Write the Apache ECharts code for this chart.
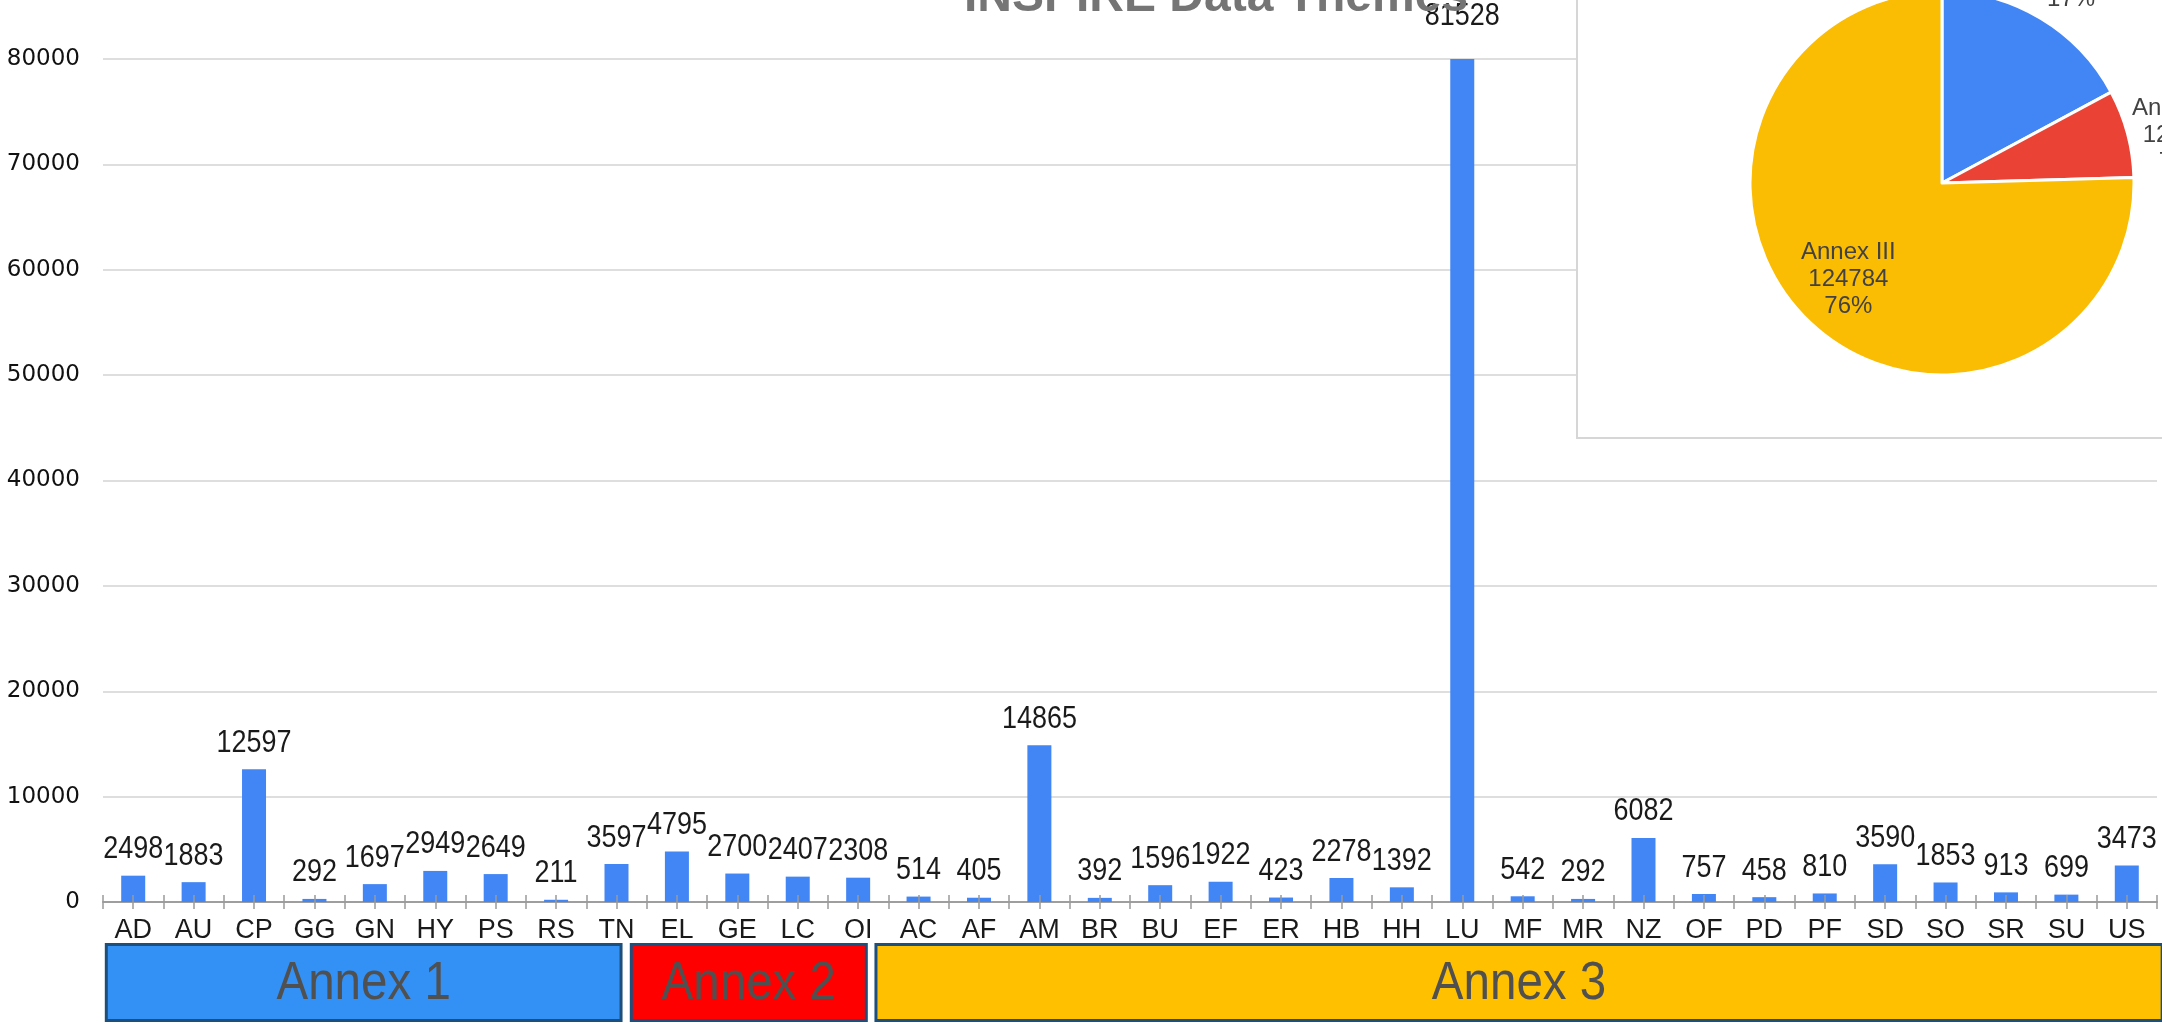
<!DOCTYPE html>
<html>
<head>
<meta charset="utf-8">
<script src="https://cdn.jsdelivr.net/npm/echarts@6/dist/echarts.min.js"></script>
<style>
html,body{margin:0;padding:0;background:#fff;}
#chart{width:2162px;height:1023px;}
</style>
</head>
<body>
<div id="chart"></div>
<script>
// ---------- data ----------
const categories = ['AD','AU','CP','GG','GN','HY','PS','RS','TN',
  'EL','GE','LC','OI',
  'AC','AF','AM','BR','BU','EF','ER','HB','HH','LU','MF','MR','NZ','OF','PD','PF','SD','SO','SR','SU','US'];
const values = [2498,1883,12597,292,1697,2949,2649,211,3597,
  4795,2700,2407,2308,
  514,405,14865,392,1596,1922,423,2278,1392,81528,542,292,6082,757,458,810,3590,1853,913,699,3473];
const yTicks = [0,10000,20000,30000,40000,50000,60000,70000,80000];

const annexNames = ['Annex 1','Annex 2','Annex 3'];
const annexStart = [0.03, 8.72, 12.77];   // in category units
const annexEnd   = [8.6, 12.66, 34.11];

const pieNames = ['Annex I','Annex II','Annex III'];
const pieValues = [28373, 12210, 124784];
const piePctShown = ['17%','7%','76%'];

// ---------- styling ----------
const SANS = '"Liberation Sans",Arial,sans-serif';
const annexColors = ['#3391F5','#FF0000','#FFC000'];
const pieColors = ['#4285F4','#EA4335','#FBBC04'];
const yMax = 80000;
const pieCenter = [1942, 183];
const pieRadius = 192;
const pieLabelRadiusFactor = [1.31, 1.24, 0.70];
const pieLabelDx = [0, 4, 0];
const pieLabelDy = [5, 14, 0];

// pie label positions from slice mid angles
const pieTotal = pieValues.reduce((a,b)=>a+b,0);
const pieMid = [];
{ let acc = 0; pieValues.forEach(v => { pieMid.push((acc + v/2)/pieTotal*2*Math.PI); acc += v; }); }

const chart = echarts.init(document.getElementById('chart'), null, {renderer:'canvas'});

const option = {
  animation: false,
  backgroundColor: '#ffffff',
  title: {
    text: 'INSPIRE Data Themes',
    left: 1211, top: -31, textAlign: 'center',
    z: 12,
    textStyle: {fontSize: 48, fontWeight: 'bold', color: '#757575', fontFamily: SANS}
  },
  grid: [
    {left: 103, right: 5, top: 59, bottom: 121, containLabel: false},
    {left: 103, right: 5, top: 943, bottom: 1}
  ],
  xAxis: [
    {
      type: 'category', gridIndex: 0, data: categories,
      axisLine: {show: true, lineStyle: {color: '#9e9e9e', width: 2}},
      axisTick: {show: false},
      axisLabel: {interval: 0, margin: 15, fontSize: 27, color: '#1a1a1a', fontFamily: SANS}
    },
    {
      type: 'value', gridIndex: 0, min: 0, max: categories.length, interval: 0.5,
      position: 'bottom', offset: 7, z: 5,
      axisLine: {show: false},
      axisLabel: {show: false},
      splitLine: {show: false},
      axisTick: {show: true, inside: true, length: 14, lineStyle: {color: '#9a9a9a', width: 1.5}}
    },
    {
      type: 'value', gridIndex: 1, min: 0, max: categories.length, show: false
    }
  ],
  yAxis: [
    {
      type: 'value', gridIndex: 0, min: 0, max: yMax, interval: 10000,
      axisLine: {show: false}, axisTick: {show: false},
      splitLine: {lineStyle: {color: '#d3d3d3', width: 1.5}},
      axisLabel: {margin: 23, fontSize: 23, color: '#111', fontFamily: '"DejaVu Sans",sans-serif',
        formatter: v => String(v)}
    },
    {type: 'value', gridIndex: 1, min: 0, max: 1, show: false}
  ],
  graphic: [
    {
      type: 'rect', z: 6,
      shape: {x: 1577, y: -10, width: 700, height: 448},
      style: {fill: '#ffffff', stroke: '#d6d6d6', lineWidth: 2}
    }
  ],
  series: [
    {
      type: 'bar', xAxisIndex: 0, yAxisIndex: 0,
      barWidth: 24,
      itemStyle: {color: '#4285F4'},
      clip: true,
      data: values
    },
    {
      // value labels (condensed text), positioned through the axes
      type: 'custom', xAxisIndex: 0, yAxisIndex: 0, z: 4,
      data: values.map((v, i) => [i, v]),
      renderItem: function (params, api) {
        const p = api.coord([api.value(0), api.value(1)]);
        return {
          type: 'text', x: p[0], y: p[1] - 26, scaleX: 0.87,
          style: {text: String(api.value(1)), x: 0, y: 0, align: 'center', verticalAlign: 'middle',
            fill: '#1a1a1a', font: '31px ' + SANS}
        };
      }
    },
    {
      type: 'custom', xAxisIndex: 2, yAxisIndex: 1,
      encode: {x: [0, 1]},
      data: annexNames.map((n, i) => [annexStart[i], annexEnd[i], i]),
      renderItem: function (params, api) {
        const i = api.value(2);
        const p0 = api.coord([api.value(0), 1]);
        const p1 = api.coord([api.value(1), 0]);
        const lw = 3;
        return {
          type: 'group',
          children: [
            {type: 'rect',
             shape: {x: p0[0] + lw/2, y: p0[1] + lw/2, width: p1[0] - p0[0] - lw, height: p1[1] - p0[1] - lw},
             style: {fill: annexColors[i], stroke: '#1d4f7c', lineWidth: lw}},
            {type: 'text', x: (p0[0] + p1[0]) / 2, y: (p0[1] + p1[1]) / 2 + 2, scaleX: 0.88,
             style: {text: annexNames[i], x: 0, y: 0,
               align: 'center', verticalAlign: 'middle', fill: '#505050',
               font: '54px ' + SANS}}
          ]
        };
      }
    },
    {
      type: 'pie', z: 10,
      center: pieCenter, radius: pieRadius,
      startAngle: 90, clockwise: true,
      avoidLabelOverlap: false,
      itemStyle: {borderColor: '#ffffff', borderWidth: 3},
      label: {
        show: true, position: 'outside',
        formatter: p => pieNames[p.dataIndex] + '\n' + pieValues[p.dataIndex] + '\n' + piePctShown[p.dataIndex],
        fontSize: 24, lineHeight: 27, color: '#424242', fontFamily: SANS
      },
      labelLine: {show: false},
      labelLayout: function (p) {
        const i = p.dataIndex;
        const a = pieMid[i];
        const r = pieRadius * pieLabelRadiusFactor[i];
        return {
          x: pieCenter[0] + r * Math.sin(a) + pieLabelDx[i],
          y: pieCenter[1] - r * Math.cos(a) + pieLabelDy[i],
          align: 'center', verticalAlign: 'middle'
        };
      },
      data: pieNames.map((n, i) => ({name: n, value: pieValues[i], itemStyle: {color: pieColors[i]}}))
    }
  ]
};
chart.setOption(option);
</script>
</body>
</html>
